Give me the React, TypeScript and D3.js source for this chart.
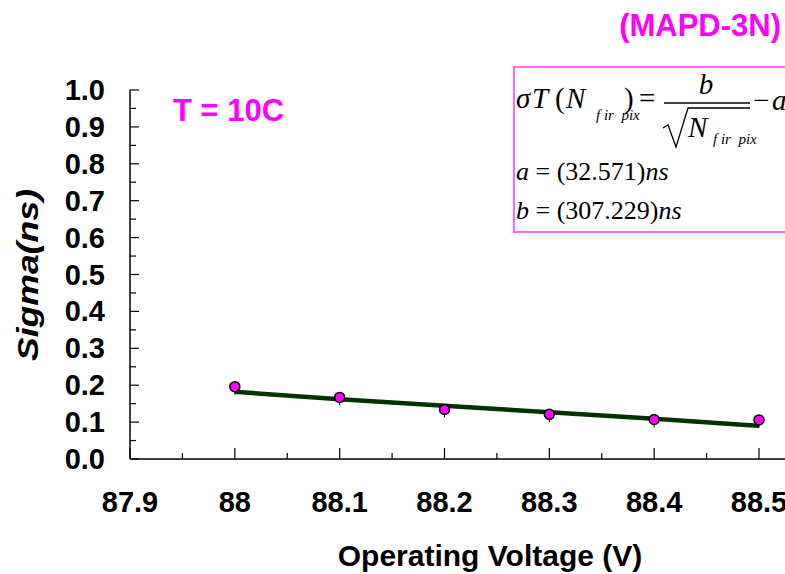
import React from "react";
import * as d3 from "d3";

const voltages = [88.0, 88.1, 88.2, 88.3, 88.4, 88.5];
const sigmas = [0.196, 0.167, 0.134, 0.121, 0.107, 0.106];
const fitVoltages = [88.0, 88.1, 88.2, 88.3, 88.4, 88.5];
const fitSigmas = [0.182, 0.162, 0.144, 0.127, 0.109, 0.09];
const xTicks = [87.9, 88.0, 88.1, 88.2, 88.3, 88.4, 88.5];
const xTickLabels = ["87.9", "88", "88.1", "88.2", "88.3", "88.4", "88.5"];
const yTicks = [0, 0.1, 0.2, 0.3, 0.4, 0.5, 0.6, 0.7, 0.8, 0.9, 1.0];
const paramA = "32.571";
const paramB = "307.229";

export default function App() {
  const W = 785, H = 574;
  const x = d3.scaleLinear().domain([87.9, 88.5]).range([130, 759]);
  const y = d3.scaleLinear().domain([0, 1]).range([459, 90]);
  const xMinor = d3.range(0, 13).map((i) => 87.9 + i * 0.05);
  const yMinor = d3.range(0, 21).map((i) => i * 0.05);
  const fitLine = d3
    .line<number>()
    .x((_, i) => x(fitVoltages[i]))
    .y((d) => y(d))
    .curve(d3.curveMonotoneX)(fitSigmas);
  const bold = "'Liberation Sans', Arial, sans-serif";
  const serif = "'Liberation Serif', 'Times New Roman', serif";
  const magenta = "#ff00ff";
  return (
    <svg
      width={W}
      height={H}
      style={{ position: "absolute", left: 0, top: 0, display: "block", background: "#fff" }}
    >
      {/* axes */}
      <line x1={130} x2={785} y1={459} y2={459} stroke="#000" strokeWidth={1.5} />
      <line x1={130} x2={130} y1={90} y2={459} stroke="#000" strokeWidth={1.5} />
      {xMinor.map((v, i) => (
        <line
          key={"xm" + i}
          x1={x(v)}
          x2={x(v)}
          y1={459}
          y2={i % 2 === 0 ? 448 : 453}
          stroke="#000"
          strokeWidth={1.2}
        />
      ))}
      {yMinor.map((v, i) => (
        <line
          key={"ym" + i}
          x1={130}
          x2={i % 2 === 0 ? 139 : 136}
          y1={y(v)}
          y2={y(v)}
          stroke="#000"
          strokeWidth={1.2}
        />
      ))}
      {xTicks.map((v, i) => (
        <text
          key={"xt" + i}
          x={x(v)}
          y={512}
          textAnchor="middle"
          fontFamily={bold}
          fontWeight="bold"
          fontSize={29}
        >
          {xTickLabels[i]}
        </text>
      ))}
      {yTicks.map((v, i) => (
        <text
          key={"yt" + i}
          x={105}
          y={y(v) + 10}
          textAnchor="end"
          fontFamily={bold}
          fontWeight="bold"
          fontSize={29}
        >
          {v.toFixed(1)}
        </text>
      ))}
      {/* axis titles */}
      <text
        x={490}
        y={566}
        textAnchor="middle"
        fontFamily={bold}
        fontWeight="bold"
        fontSize={30}
      >
        Operating Voltage (V)
      </text>
      <text
        transform="translate(38,275) rotate(-90)"
        textAnchor="middle"
        fontFamily={bold}
        fontWeight="bold"
        fontStyle="italic"
        fontSize={30}
        textLength={172}
        lengthAdjust="spacingAndGlyphs"
      >
        Sigma(ns)
      </text>
      {/* fit */}
      <path d={fitLine || ""} fill="none" stroke="#003300" strokeWidth={4.5} />
      {/* data */}
      {voltages.map((v, i) => (
        <g key={"p" + i}>
          <line x1={x(v)} x2={x(v)} y1={y(sigmas[i])} y2={y(sigmas[i]) + 8} stroke="#000" strokeWidth={1} />
          <circle cx={x(v)} cy={y(sigmas[i])} r={5} fill={magenta} stroke="#000" strokeWidth={1.5} />
        </g>
      ))}
      {/* labels */}
      <text x={781} y={36} textAnchor="end" fontFamily={bold} fontWeight="bold" fontSize={31} fill={magenta}>
        (MAPD-3N)
      </text>
      <text x={173} y={121} fontFamily={bold} fontWeight="bold" fontSize={31} fill={magenta}>
        T = 10C
      </text>
      {/* formula box */}
      <rect x={514} y={67} width={290} height={165} fill="#fff" stroke="#ff66ff" strokeWidth={2} />
      <g fontFamily={serif} fill="#000">
        <text x={516} y={108} fontSize={29} fontStyle="italic">σ</text>
        <text x={532} y={108} fontSize={29} fontStyle="italic">T</text>
        <text x={555} y={108} fontSize={29}>(</text>
        <text x={566} y={108} fontSize={29} fontStyle="italic">N</text>
        <text x={596} y={120} fontSize={15} fontStyle="italic" xmlSpace="preserve">f ir  pix</text>
        <text x={624} y={108} fontSize={29}>)</text>
        <text x={639} y={108} fontSize={29}>=</text>
        <text x={706} y={94} fontSize={29} fontStyle="italic" textAnchor="middle">b</text>
        <line x1={664} x2={750} y1={103} y2={103} stroke="#000" strokeWidth={1.3} />
        <path d="M663,128 L668,125 L676,147 L688,108 L750,108" fill="none" stroke="#000" strokeWidth={1.3} />
        <text x={688} y={137} fontSize={29} fontStyle="italic">N</text>
        <text x={713} y={144} fontSize={15} fontStyle="italic" xmlSpace="preserve">f ir  pix</text>
        <text x={753} y={110} fontSize={29}>−</text>
        <text x={772} y={110} fontSize={29} fontStyle="italic">a</text>
        <text x={516} y={180} fontSize={26}>
          <tspan fontStyle="italic">a</tspan>
          <tspan> = (</tspan>
          <tspan>{paramA}</tspan>
          <tspan>)</tspan>
          <tspan fontStyle="italic">ns</tspan>
        </text>
        <text x={516} y={219} fontSize={26}>
          <tspan fontStyle="italic">b</tspan>
          <tspan> = (</tspan>
          <tspan>{paramB}</tspan>
          <tspan>)</tspan>
          <tspan fontStyle="italic">ns</tspan>
        </text>
      </g>
    </svg>
  );
}
